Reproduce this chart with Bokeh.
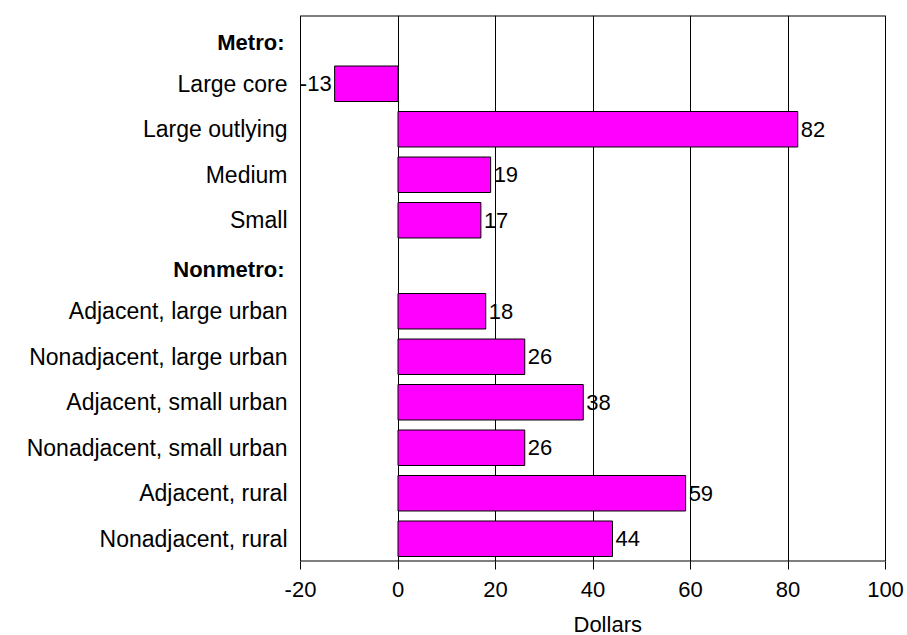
from bokeh.plotting import figure
from bokeh.models import ColumnDataSource, FactorRange, Range1d, LabelSet, FixedTicker, Title
from bokeh.core.properties import value
from bokeh.embed import file_html
from bokeh.resources import INLINE

# Data
headers = ["Metro:", "Nonmetro:"]
categories = ["Metro:", "Large core", "Large outlying", "Medium", "Small",
              "Nonmetro:", "Adjacent, large urban", "Nonadjacent, large urban",
              "Adjacent, small urban", "Nonadjacent, small urban",
              "Adjacent, rural", "Nonadjacent, rural"]
bar_categories = ["Large core", "Large outlying", "Medium", "Small",
                  "Adjacent, large urban", "Nonadjacent, large urban",
                  "Adjacent, small urban", "Nonadjacent, small urban",
                  "Adjacent, rural", "Nonadjacent, rural"]
values = [-13, 82, 19, 17, 18, 26, 38, 26, 59, 44]
x_ticks = [-20, 0, 20, 40, 60, 80, 100]
x_label = "Dollars"

FONT = "Liberation Sans"

# Layout: the frame also covers the label column on the left, so that
# row labels (normal and bold headers) can be drawn as text in data space.
PLOT_LEFT_PX = 300      # where x = -20 sits
PLOT_WIDTH_PX = 585     # width of the -20..100 span
EXTRA_RIGHT_PX = 6
units_per_px = (x_ticks[-1] - x_ticks[0]) / PLOT_WIDTH_PX
x_lo = x_ticks[0] - PLOT_LEFT_PX * units_per_px
x_hi = x_ticks[-1] + EXTRA_RIGHT_PX * units_per_px
n_rows = len(categories)

p = figure(y_range=FactorRange(factors=list(reversed(categories))),
           x_range=Range1d(x_lo, x_hi),
           frame_width=PLOT_LEFT_PX + PLOT_WIDTH_PX + EXTRA_RIGHT_PX, frame_height=546,
           min_border_left=0, min_border_right=14,
           min_border_top=15, min_border_bottom=0,
           output_backend="svg", toolbar_location=None)

# plot box (top and bottom edges; left/right edges come from the -20/100 grid lines)
p.segment(x0=[x_ticks[0]] * 2, x1=[x_ticks[-1]] * 2, y0=[0, n_rows], y1=[0, n_rows],
          line_color="#000000", line_width=2)

src = ColumnDataSource(dict(cat=bar_categories, val=values))
p.hbar(y="cat", left=0, right="val", height=0.78, source=src,
       fill_color="#FF00FF", line_color="#000000", line_width=1)

pos_src = ColumnDataSource(dict(cat=[c for c, v in zip(bar_categories, values) if v >= 0],
                                val=[v for v in values if v >= 0],
                                lab=[str(v) for v in values if v >= 0]))
neg_src = ColumnDataSource(dict(cat=[c for c, v in zip(bar_categories, values) if v < 0],
                                val=[v for v in values if v < 0],
                                lab=[str(v) for v in values if v < 0]))
p.add_layout(LabelSet(x="val", y="cat", text="lab", source=pos_src, x_offset=3,
                      text_align="left", text_baseline="middle",
                      text_font=value(FONT), text_font_size=value("22px"),
                      text_color="#000000"))
p.add_layout(LabelSet(x="val", y="cat", text="lab", source=neg_src, x_offset=-3,
                      text_align="right", text_baseline="middle",
                      text_font=value(FONT), text_font_size=value("22px"),
                      text_color="#000000"))

# row labels
row_labels = [c for c in categories if c not in headers]
p.text(x=[x_ticks[0]] * len(row_labels), y=row_labels, text=row_labels,
       x_offset=-13, text_align="right", text_baseline="middle",
       text_font=value(FONT), text_font_size=value("23px"), text_color="#000000")
p.text(x=[x_ticks[0]] * len(headers), y=headers, text=headers,
       x_offset=-16, y_offset=4, text_align="right", text_baseline="middle",
       text_font=value(FONT), text_font_size=value("22px"),
       text_font_style="bold", text_color="#000000")

# axes
p.yaxis.visible = False
p.xaxis.ticker = FixedTicker(ticks=x_ticks)
p.xaxis.major_label_overrides = {t: str(t) for t in x_ticks}
p.xaxis.major_label_text_font = FONT
p.xaxis.major_label_text_font_size = "22px"
p.xaxis.major_label_text_color = "#000000"
p.xaxis.major_tick_out = 8
p.xaxis.major_tick_in = 0
p.xaxis.minor_tick_out = 0
p.xaxis.minor_tick_in = 0
p.xaxis.major_label_standoff = 12
p.xaxis.axis_line_color = None
p.xaxis.major_tick_line_color = "#000000"
# small spacer between tick labels and the "Dollars" title
p.xaxis.axis_label = " "
p.xaxis.axis_label_text_font_size = "1px"
p.xaxis.axis_label_standoff = 6

p.add_layout(Title(text=x_label, align="left", offset=PLOT_LEFT_PX + 273,
                   text_font=FONT, text_font_size="22px", text_font_style="normal",
                   text_color="#000000", standoff=0), "below")

p.xgrid.grid_line_color = "#000000"
p.xgrid.grid_line_width = 1
p.xgrid.ticker = FixedTicker(ticks=x_ticks)
p.ygrid.grid_line_color = None

p.outline_line_color = None
p.background_fill_color = "#FFFFFF"
p.border_fill_color = "#FFFFFF"

open("out.html", "w").write(file_html(p, INLINE))
